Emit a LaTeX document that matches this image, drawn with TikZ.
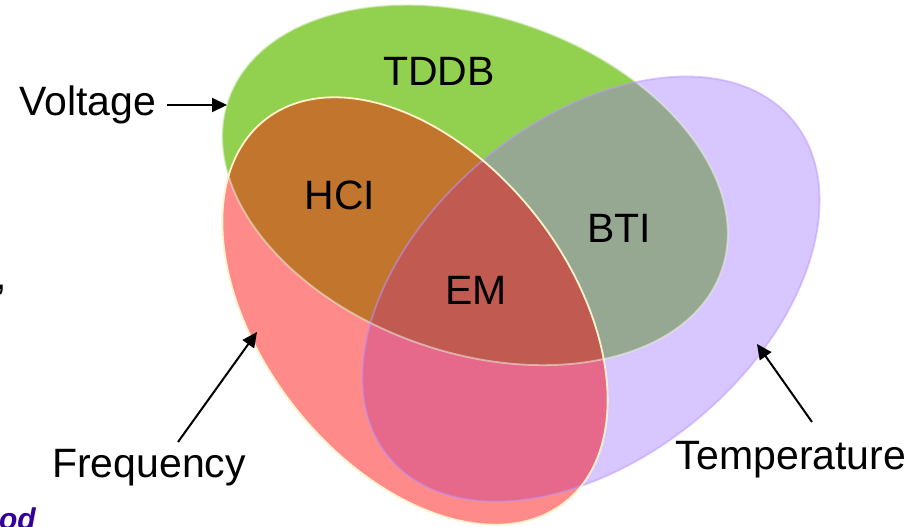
\documentclass[tikz,border=0pt]{standalone}
\usepackage{fontspec}
\setmainfont{Liberation Sans}
\usetikzlibrary{arrows.meta}
\definecolor{cG}{HTML}{92D050}
\definecolor{cP}{HTML}{D7C6FF}
\definecolor{cR}{HTML}{FF8A8A}
\definecolor{cHCI}{HTML}{C2762D}
\definecolor{cBTI}{HTML}{96A891}
\definecolor{cEM}{HTML}{C15B51}
\definecolor{cRP}{HTML}{E6698B}
\definecolor{cGline}{HTML}{EAF3DE}
\definecolor{cPline}{HTML}{B896FF}
\definecolor{cRline}{HTML}{FFF2CC}
\definecolor{cOd}{HTML}{330099}
\begin{document}
\begin{tikzpicture}[x=1pt,y=-1pt,
  lbl/.style={inner sep=0pt, font=\fontsize{41}{49}\selectfont},
  arr/.style={line width=2pt, -{Triangle[length=15pt,width=14pt]}},
  gshape/.style={rotate around={-19:(475,185)}},
  pshape/.style={rotate around={40:(591,289)}},
  rshape/.style={rotate around={-52:(415,311)}}]
\useasboundingbox (0,0) rectangle (922,527);
\clip (0,0) rectangle (922,527);
\def\Gp{(475,185) ellipse [x radius=261, y radius=168]}
\def\Pp{(591,289) ellipse [x radius=263, y radius=168]}
\def\Rp{(415,311) ellipse [x radius=243, y radius=154]}
% base fills
\fill[cG, gshape] \Gp;
\fill[cP, pshape] \Pp;
\fill[cR, rshape] \Rp;
% overlaps
\begin{scope}\clip[gshape] \Gp; \fill[cHCI, rshape] \Rp; \end{scope}
\begin{scope}\clip[gshape] \Gp; \fill[cBTI, pshape] \Pp; \end{scope}
\begin{scope}\clip[rshape] \Rp; \fill[cRP, pshape] \Pp; \end{scope}
\begin{scope}\clip[gshape] \Gp; \clip[rshape] \Rp; \fill[cEM, pshape] \Pp; \end{scope}
% outlines
\draw[cGline, line width=1.8pt, opacity=0.55, gshape] \Gp;
\draw[cPline, line width=1.8pt, opacity=0.5, pshape] \Pp;
\draw[cRline, line width=1.8pt, rshape] \Rp;
% region labels
\node[lbl, anchor=base] (tddb) at (439,85) {TDDB};
\node[lbl, anchor=base] (hci) at (340,209) {HCI};
\node[lbl, anchor=base] (bti) at (619,242) {BTI};
\node[lbl, anchor=base] (em) at (476,304) {EM};
% outside labels
\node[lbl, anchor=base] (volt) at (88,115) {Voltage};
\node[lbl, anchor=base] (freq) at (149,477) {Frequency};
\node[lbl, anchor=base] (temp) at (791,469) {Temperature};
\node[inner sep=0pt, anchor=base east, text=cOd, font=\fontsize{30}{36}\selectfont\bfseries\itshape] (od) at (36,529) {od};
\node[lbl, anchor=base west] (comma) at (-5,289) {,};
% arrows
\coordinate (vtail) at (167,105);
\coordinate (vtip) at (227,105);
\coordinate (ftail) at (178,442);
\coordinate (ftip) at (257,332);
\coordinate (ttail) at (812,422);
\coordinate (ttip) at (757,344);
\draw[arr] (vtail) -- (vtip);
\draw[arr] (ftail) -- (ftip);
\draw[arr] (ttail) -- (ttip);
\end{tikzpicture}
\end{document}
